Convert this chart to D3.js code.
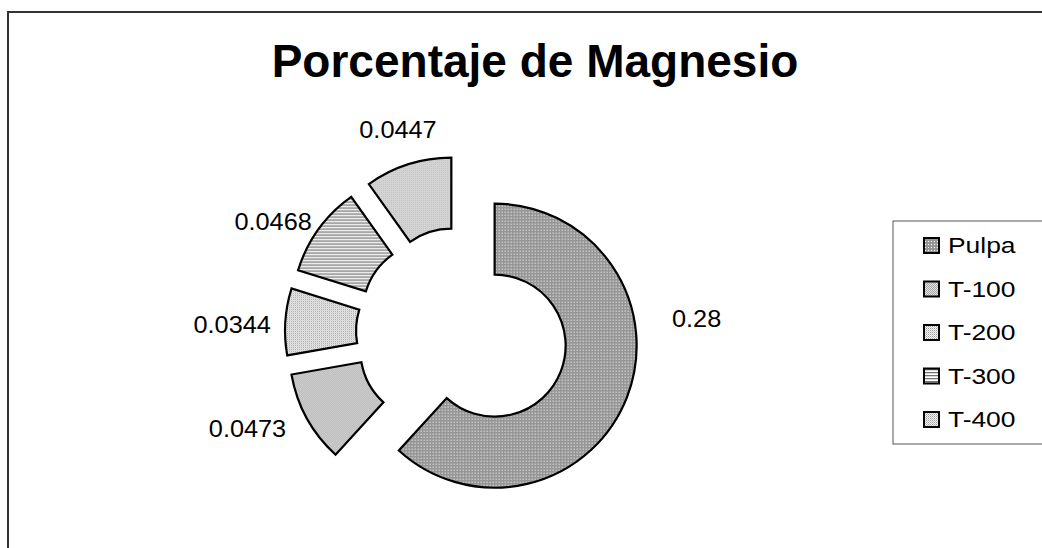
<!DOCTYPE html>
<html>
<head>
<meta charset="utf-8">
<script src="https://cdn.jsdelivr.net/npm/d3@7"></script>
<style>
  html, body { margin: 0; padding: 0; background: #ffffff; }
  svg { display: block; font-family: "Liberation Sans", Arial, sans-serif; }
</style>
</head>
<body>
<svg id="chart" width="1042" height="548"></svg>
<script>
// ---- data ----
const categories = ["Pulpa", "T-100", "T-200", "T-300", "T-400"];
const values = [0.28, 0.0473, 0.0344, 0.0468, 0.0447];
const valueLabels = ["0.28", "0.0473", "0.0344", "0.0468", "0.0447"];
const title = "Porcentaje de Magnesio";

// ---- layout ----
const W = 1042, H = 548;
const cx = 462, cy = 333;
const outerR = 142, innerR = 71, explode = 35;
// label placement (polar, relative to chart centre): degrees clockwise from 12 o'clock, distance
const labelPlacement = {
  "Pulpa": [86.6, 235],
  "T-100": [245.9, 235],
  "T-200": [272, 230],
  "T-300": [300.4, 219],
  "T-400": [342.5, 213]
};

const svg = d3.select("#chart");
const defs = svg.append("defs");

// fill patterns imitating the Excel monochrome fills
function pat(id, w, h, bg, cells) {
  const p = defs.append("pattern").attr("id", id)
    .attr("patternUnits", "userSpaceOnUse").attr("width", w).attr("height", h);
  p.append("rect").attr("width", w).attr("height", h).attr("fill", bg);
  cells.forEach(c => p.append("rect").attr("x", c[0]).attr("y", c[1])
    .attr("width", c[2]).attr("height", c[3]).attr("fill", c[4]));
}
pat("p0", 3, 3, "#969696", [[1, 1, 1, 1, "#ffffff"]]);
pat("p1", 2, 2, "#e2e2e2", [[0, 0, 1, 1, "#a8a8a8"], [1, 1, 1, 1, "#a8a8a8"]]);
pat("p2", 2, 2, "#f2f2f2", [[0, 0, 1, 1, "#999999"], [1, 1, 1, 1, "#cfcfcf"]]);
pat("p3", 3, 3, "#ffffff", [[0, 0, 3, 1, "#707070"], [0, 1, 3, 1, "#d8d8d8"]]);
pat("p4", 2, 2, "#eeeeee", [[0, 0, 1, 1, "#a0a0a0"], [1, 1, 1, 1, "#c4c4c4"]]);
const fills = ["url(#p0)", "url(#p1)", "url(#p2)", "url(#p3)", "url(#p4)"];

// outer chart border
svg.append("rect").attr("x", 8).attr("y", 12).attr("width", W + 20).attr("height", H + 20)
  .attr("fill", "none").attr("stroke", "#333").attr("stroke-width", 2);

// title
svg.append("text").attr("x", 535).attr("y", 77).attr("text-anchor", "middle")
  .attr("font-size", 46).attr("font-weight", "bold").attr("fill", "#000").text(title);

// doughnut
const pie = d3.pie().sort(null).value(d => d.value).startAngle(0).endAngle(2 * Math.PI);
const data = categories.map((c, i) => ({ cat: c, value: values[i], label: valueLabels[i], i }));
const arcs = pie(data);
const arc = d3.arc().innerRadius(innerR).outerRadius(outerR);

const g = svg.append("g").attr("transform", `translate(${cx},${cy})`);
g.selectAll("path.slice").data(arcs).join("path")
  .attr("class", "slice")
  .attr("d", arc)
  .attr("transform", d => {
    const m = (d.startAngle + d.endAngle) / 2;
    return `translate(${explode * Math.sin(m)},${-explode * Math.cos(m)})`;
  })
  .attr("fill", d => fills[d.data.i])
  .attr("stroke", "#000").attr("stroke-width", 2.2).attr("stroke-linejoin", "miter");

// value labels
g.selectAll("text.val").data(arcs).join("text")
  .attr("class", "val")
  .attr("transform", d => {
    const [a, r] = labelPlacement[d.data.cat];
    const t = a * Math.PI / 180;
    return `translate(${r * Math.sin(t)},${-r * Math.cos(t)}) scale(1.1,1)`;
  })
  .attr("text-anchor", "middle").attr("dy", "0.36em")
  .attr("font-size", 23).attr("fill", "#000")
  .text(d => d.data.label);

// legend
const lg = svg.append("g");
lg.append("rect").attr("x", 893).attr("y", 221).attr("width", 170).attr("height", 223)
  .attr("fill", "#fff").attr("stroke", "#555").attr("stroke-width", 1);
const ly = d3.scalePoint().domain(categories).range([253, 427]);
categories.forEach((c, i) => {
  const y = ly(c);
  lg.append("rect").attr("x", 924).attr("y", y - 15).attr("width", 15).attr("height", 15)
    .attr("fill", fills[i]).attr("stroke", "#000").attr("stroke-width", 2);
  lg.append("text").attr("transform", `translate(948,${y}) scale(1.2,1)`)
    .attr("font-size", 22).attr("fill", "#000").text(c);
});
</script>
</body>
</html>
